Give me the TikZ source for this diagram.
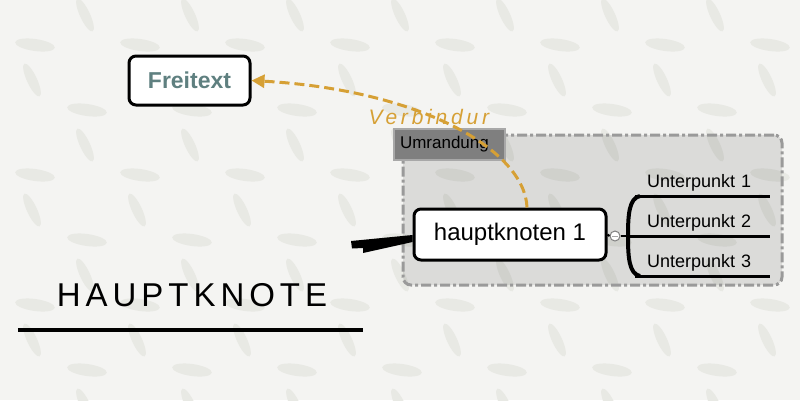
\documentclass[tikz,border=0pt]{standalone}
\usepackage{fontspec}
\setmainfont{Liberation Sans}
\newfontfamily\titlefont[LetterSpace=15]{Liberation Sans}
\newfontfamily\linkfont[LetterSpace=18]{Liberation Sans}
\usetikzlibrary{arrows.meta,calc}
\definecolor{bgpaper}{HTML}{F4F4F2}
\definecolor{blob}{HTML}{E8E9E4}
\definecolor{linkorange}{HTML}{D6A035}
\definecolor{freitextcol}{HTML}{5F8080}
\definecolor{grpline}{HTML}{9A9A9A}
\definecolor{lblfill}{HTML}{7F7F7F}
\definecolor{lblline}{HTML}{A8A8A8}
\tikzset{
  mainbox/.style={draw=black, line width=3pt, fill=white, rounded corners=7pt, inner sep=0pt},
  grpbox/.style={draw=grpline, line width=3pt, fill=black, fill opacity=0.1, draw opacity=1, text opacity=1,
     rounded corners=8pt, dash pattern=on 10pt off 3pt on 3pt off 3pt},
  lblbox/.style={draw=lblline, line width=2pt, fill=lblfill, inner xsep=6pt, text width=99pt, align=left,
     minimum height=31pt, font=\fontsize{17}{19}\selectfont},
  subitem/.style={anchor=south west, text width=111pt, inner xsep=12pt, inner ysep=5pt, align=left,
     font=\fontsize{18}{20}\selectfont},
  subline/.style={line width=3pt},
  link/.style={draw=linkorange, line width=3pt, dash pattern=on 10pt off 5pt,
     -{Triangle[length=13pt,width=13pt,fill=linkorange]}},
}
\begin{document}
\begin{tikzpicture}[x=1pt,y=-1pt]
\useasboundingbox (0,0) rectangle (800,400);
\fill[bgpaper] (0,0) rectangle (800,400);
% paper texture
\begin{scope}
\clip (0,0) rectangle (800,400);
\foreach \i in {0,...,8}{
  \foreach \j in {0,...,6}{
    \pgfmathsetmacro{\bx}{\i*105 + mod(\j,2)*52 - 20}
    \pgfmathsetmacro{\by}{\j*65 + 15}
    \fill[blob] (\bx,\by) ellipse[x radius=18pt, y radius=5pt, rotate=-65];
    \fill[blob] (\bx+55,\by+30) ellipse[x radius=20pt, y radius=6pt, rotate=-8];
  }
}
\end{scope}

% group (Umrandung)
\node[grpbox, minimum width=379pt, minimum height=150pt] (grp) at (592.5,210) {};
\node[lblbox] (lab) at (449.5,144) {Umrandung};

% free text
\node[mainbox, minimum width=121pt, minimum height=49pt, text=freitextcol,
      font=\fontsize{23}{26}\selectfont\bfseries] (frei) at (189.5,80.5) {Freitext};

% main node
\node[mainbox, minimum width=192pt, minimum height=51pt, font=\fontsize{24}{28}\selectfont] (hk) at (510,234.5) {hauptknoten 1};

% tapered incoming connector
\coordinate (wt) at (351,241);
\fill[black] (wt) -- ($(hk.west)+(0,0.5)$) -- ($(hk.west)+(0,7.5)$) -- (363,253) -- (363,248) -- (352,248.5) -- cycle;

% link with label
\draw[link] ($(hk.north)+(17,0)$) .. controls (525,150) and (420,90) .. (frei.east);
\node[text=linkorange, font=\fontsize{21}{24}\selectfont\linkfont\itshape, anchor=west] (vlab) at (365,117) {Verbindur};

% collapse circle and brace
\node[circle, draw=gray, fill=white, line width=1pt, minimum size=10pt, inner sep=0pt] (cc) at (615,236) {};
\draw[gray!70, line width=1pt] ($(cc.center)+(-3,0)$) -- ($(cc.center)+(3,0)$);
\coordinate (bm) at (628,236);
\draw[line width=2pt] (hk.east) -- (cc.west);
\draw[line width=2.5pt] (cc.east) -- (bm);
\draw[line width=4pt] (640,196) .. controls (629,198) and (628,215) .. (628,236)
   .. controls (628,257) and (629,274) .. (640,276);

% sub items
\node[subitem] (u1) at (635,196) {Unterpunkt 1};
\node[subitem] (u2) at (635,236) {Unterpunkt 2};
\node[subitem] (u3) at (635,276) {Unterpunkt 3};
\draw[subline] (u1.south west) -- (u1.south east);
\draw[subline] (bm) -- (u2.south east);
\draw[subline] (u3.south west) -- (u3.south east);

% title
\node[anchor=south, minimum width=345pt, inner ysep=23pt, font=\fontsize{33}{36}\selectfont\titlefont] (ht) at (192,330) {HAUPTKNOTE};
\draw[line width=4pt] ($(ht.south west)+(-1.5,0)$) -- ($(ht.south east)+(-1.5,0)$);
\end{tikzpicture}
\end{document}
